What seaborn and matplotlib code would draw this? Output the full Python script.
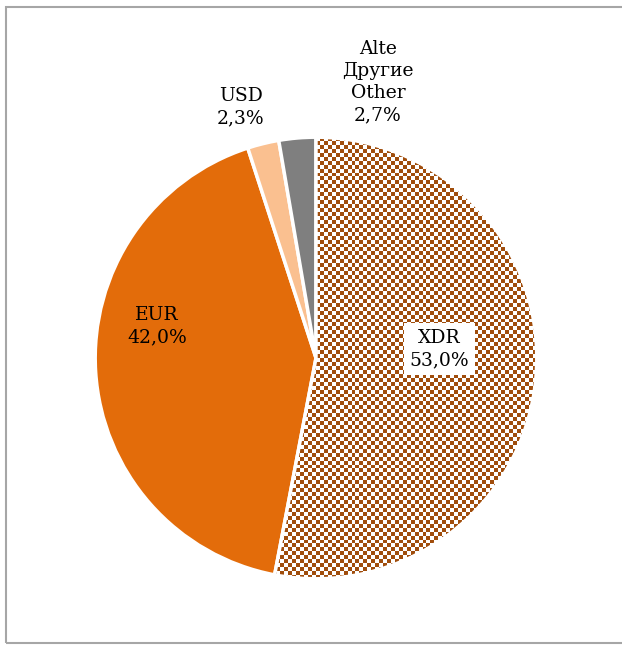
import numpy as np
import seaborn as sns
import matplotlib.pyplot as plt
from matplotlib.patches import Rectangle

sns.set_theme(style="white")
plt.rcParams["font.family"] = ["DejaVu Serif"]

# Currency structure of the debt
labels = ["XDR", "EUR", "USD", "Alte\nДругие\nOther"]
shares = [53.0, 42.0, 2.3, 2.7]
colors = ["#A04D0C", "#E36C0A", "#FAC090", "#7F7F7F"]

fig = plt.figure(figsize=(6.22, 6.45), dpi=100)

# grey frame around the chart area
fig.patches.append(Rectangle((6 / 622, 2 / 645), 1.2, 636 / 645, transform=fig.transFigure,
                             fill=False, edgecolor="#A6A6A6", linewidth=1.5, zorder=0))

r = 223
ax = fig.add_axes([(316 - r) / 622, (645 - 358 - r) / 645, 2 * r / 622, 2 * r / 645])
wedges, _ = ax.pie(shares, colors=colors, startangle=90, counterclock=False,
                   wedgeprops=dict(edgecolor="white", linewidth=2.5))

# checkered texture for XDR slice, clipped to the wedge
n = 112
checker = (np.add.outer(np.arange(n), np.arange(n)) % 2).astype(float)
cmap = plt.matplotlib.colors.ListedColormap(["white", colors[0]])
img = ax.imshow(checker, cmap=cmap, extent=(-1, 1, -1, 1), interpolation="nearest", zorder=1.5)
img.set_clip_path(wedges[0])
wedges[0].set_zorder(2)
wedges[0].set_facecolor("none")

ax.set_xlim(-1.01, 1.01)
ax.set_ylim(-1.01, 1.01)
ax.set_aspect("equal")
ax.axis("off")

fs = 13.5
pct = [f"{v:.1f}%".replace(".", ",") for v in shares]
kw = dict(ha="center", va="center", fontsize=fs, color="black", linespacing=1.3)
ax.text(0.56, 0.04, f"{labels[0]}\n{pct[0]}", zorder=5,
        bbox=dict(facecolor="white", edgecolor="none", pad=4), **kw)
ax.text(-0.72, 0.145, f"{labels[1]}\n{pct[1]}", zorder=5, **kw)
ax.text(-0.34, 1.135, f"{labels[2]}\n{pct[2]}", clip_on=False, **kw)
ax.text(0.28, 1.25, f"{labels[3]}\n{pct[3]}", clip_on=False, **kw)

fig.savefig("out.png", dpi=100)
